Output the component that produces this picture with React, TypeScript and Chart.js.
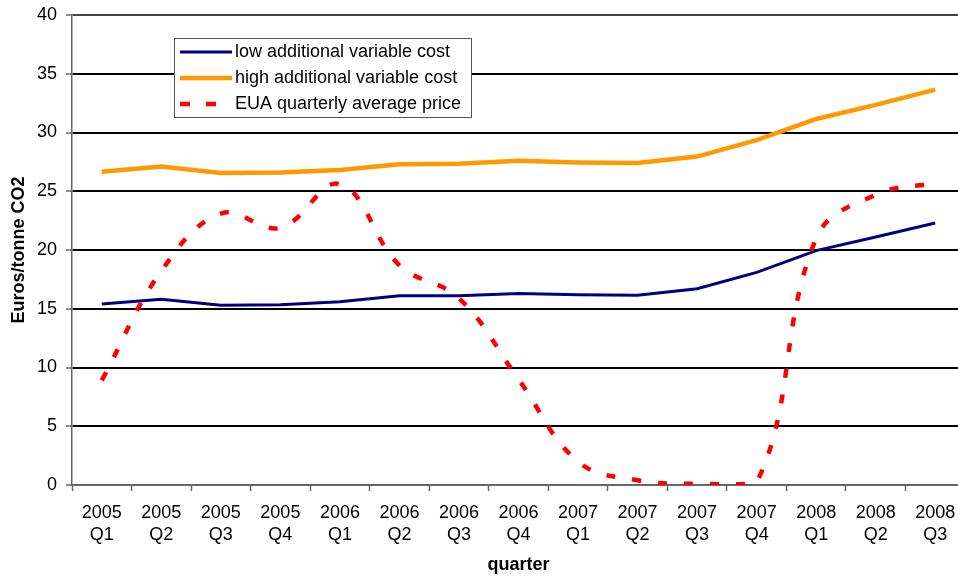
import React, { useEffect, useRef } from "react";
import { Chart, registerables } from "chart.js";

Chart.register(...registerables);

const years = ["2005", "2005", "2005", "2005", "2006", "2006", "2006", "2006", "2007", "2007", "2007", "2007", "2008", "2008", "2008"];
const quarters = ["Q1", "Q2", "Q3", "Q4", "Q1", "Q2", "Q3", "Q4", "Q1", "Q2", "Q3", "Q4", "Q1", "Q2", "Q3"];

const lowCost = [15.4, 15.8, 15.3, 15.35, 15.6, 16.1, 16.1, 16.3, 16.2, 16.15, 16.7, 18.1, 19.95, 21.1, 22.3];
const highCost = [26.65, 27.1, 26.55, 26.6, 26.8, 27.3, 27.35, 27.6, 27.45, 27.4, 27.95, 29.35, 31.15, 32.35, 33.65];
const euaPrice = [8.9, 18.2, 23.1, 21.9, 25.6, 18.7, 15.9, 9.0, 2.0, 0.4, 0.1, 0.2, 21.0, 24.7, 25.7];

const seriesNames = ["low additional variable cost", "high additional variable cost", "EUA quarterly average price"];
const yTitle = "Euros/tonne CO2";
const xTitle = "quarter";

const FONT = "'Liberation Sans', Arial, sans-serif";

const legendPlugin = {
  id: "boxLegend",
  afterDraw(chart: any) {
    const ctx = chart.ctx;
    const left = 174, top = 38, w = 297, h = 79;
    ctx.save();
    ctx.fillStyle = "#ffffff";
    ctx.fillRect(left, top, w, h);
    ctx.strokeStyle = "#555555";
    ctx.lineWidth = 1;
    ctx.strokeRect(left + 0.5, top + 0.5, w, h);
    const ds = chart.data.datasets;
    ds.forEach((d: any, i: number) => {
      const y = 52 + i * 26;
      ctx.beginPath();
      ctx.strokeStyle = d.borderColor;
      ctx.lineWidth = d.borderWidth;
      ctx.setLineDash(d.borderDash && d.borderDash.length ? [10, 16] : []);
      ctx.moveTo(180, y);
      ctx.lineTo(232, y);
      ctx.stroke();
      ctx.setLineDash([]);
      ctx.fillStyle = "#000";
      ctx.font = `18px ${FONT}`;
      ctx.textBaseline = "middle";
      ctx.textAlign = "left";
      ctx.fillText(d.label, 235, y);
    });
    ctx.restore();
  },
};

export default function App() {
  const ref = useRef<HTMLCanvasElement>(null);
  useEffect(() => {
    if (!ref.current) return;
    const labels = years.map((y, i) => [y, quarters[i]]);
    const chart = new Chart(ref.current, {
      type: "line",
      data: {
        labels,
        datasets: [
          {
            label: seriesNames[0],
            data: lowCost,
            borderColor: "#000080",
            backgroundColor: "#000080",
            borderWidth: 3,
            pointRadius: 0,
            tension: 0,
            order: 2,
          },
          {
            label: seriesNames[1],
            data: highCost,
            borderColor: "#FF9900",
            backgroundColor: "#FF9900",
            borderWidth: 4.5,
            pointRadius: 0,
            tension: 0,
            order: 1,
          },
          {
            label: seriesNames[2],
            data: euaPrice,
            borderColor: "#FF0000",
            backgroundColor: "#FF0000",
            borderWidth: 4.5,
            borderDash: [9, 17],
            pointRadius: 0,
            tension: 0.4,
            order: 0,
          },
        ],
      },
      options: {
        responsive: false,
        animation: false,
        layout: { padding: { left: 0, top: 15, right: 10, bottom: 0 } },
        plugins: { legend: { display: false }, tooltip: { enabled: false } },
        scales: {
          x: {
            offset: true,
            grid: {
              offset: true,
              drawOnChartArea: false,
              drawTicks: true,
              tickLength: 6,
              tickColor: "#666",
              tickWidth: 1.5,
            },
            border: { color: "#666", width: 1.5 },
            ticks: {
              autoSkip: false,
              maxRotation: 0,
              minRotation: 0,
              padding: 11,
              color: "#000",
              font: { family: FONT, size: 18, lineHeight: 1.22 },
            },
            title: {
              display: true,
              text: xTitle,
              color: "#000",
              padding: { top: 0, bottom: 0 },
              font: { family: FONT, size: 18, weight: "bold" },
            },
            afterFit(scale: any) {
              scale.height = 91;
            },
          },
          y: {
            min: 0,
            max: 40,
            ticks: {
              stepSize: 5,
              padding: 9,
              color: "#000",
              font: { family: FONT, size: 18 },
            },
            grid: {
              color: (c: any) => (c.tick && c.tick.value === 40 ? "#444" : c.tick && c.tick.value === 0 ? "#666" : "#000"),
              lineWidth: 2,
              tickLength: 6,
              tickColor: "#666",
              tickWidth: 1.5,
            },
            border: { color: "#666", width: 1.5 },
            title: {
              display: true,
              text: yTitle,
              color: "#000",
              padding: { top: 8, bottom: 0 },
              font: { family: FONT, size: 18, weight: "bold" },
            },
            afterFit(scale: any) {
              scale.width = 72;
              scale.paddingTop = 0;
              scale.paddingBottom = 0;
            },
          },
        },
      },
      plugins: [legendPlugin],
    } as any);
    return () => chart.destroy();
  }, []);
  return (
    <div style={{ position: "fixed", left: 0, top: 0, width: 958, height: 576, overflow: "hidden", background: "#fff" }}>
      <canvas ref={ref} width={975} height={576} style={{ display: "block" }} />
    </div>
  );
}
